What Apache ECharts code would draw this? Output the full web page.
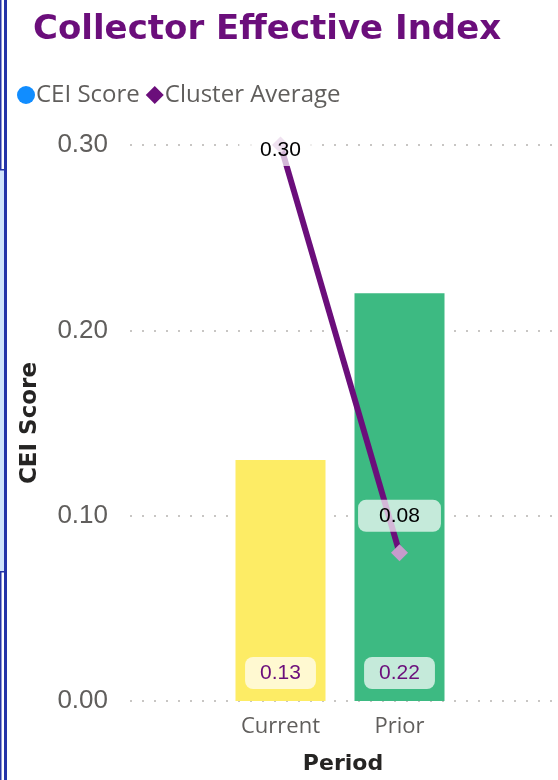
<!DOCTYPE html>
<html>
<head>
<meta charset="utf-8">
<script src="https://cdn.jsdelivr.net/npm/echarts@6/dist/echarts.min.js"></script>
<style>
html,body{margin:0;padding:0;background:#fff;}
#chart{width:558px;height:780px;}
</style>
</head>
<body>
<div id="chart"></div>
<script>
const categories = ['Current', 'Prior'];
const ceiScore = [0.13, 0.22];
const clusterAverage = [0.30, 0.08];
const yTicks = [0, 0.1, 0.2, 0.3];

const chart = echarts.init(document.getElementById('chart'), null, {renderer: 'canvas'});
const barColors = ['#FDEC65', '#3DBA82'];
const purple = '#6B0E7B';
const lineLabelOffsets = [[0, 5], [0, -37]];

const option = {
  backgroundColor: '#ffffff',
  animation: false,
  title: {
    text: 'Collector Effective Index',
    left: 28, top: 8,
    textStyle: {fontFamily: 'DejaVu Sans', fontWeight: 'bold', fontSize: 34, color: purple}
  },
  legend: {
    left: 12, top: 78, itemGap: 6, itemWidth: 18, itemHeight: 18,
    textStyle: {fontFamily: 'Open Sans', fontSize: 24, color: '#605E5C', padding: [0, 0, 0, -4]},
    data: [
      {name: 'CEI Score', icon: 'circle', itemStyle: {color: '#118DFF'}},
      {name: 'Cluster Average', icon: 'diamond', itemStyle: {color: purple}}
    ]
  },
  grid: [
    {left: 130, right: 0, top: 145, bottom: 79},
    {left: 221, width: 238, top: 145, bottom: 79}
  ],
  xAxis: [
    {type: 'value', gridIndex: 0, show: false, min: 0, max: 1},
    {type: 'category', gridIndex: 1, data: categories,
     axisLine: {show: false}, axisTick: {show: false},
     axisLabel: {fontFamily: 'Open Sans', fontSize: 22, color: '#605E5C', margin: 15},
     name: 'Period', nameLocation: 'middle', nameGap: 52,
     nameTextStyle: {fontFamily: 'DejaVu Sans', fontSize: 22, fontWeight: 'bold', color: '#252423', padding: [0, 0, 0, 6]}}
  ],
  yAxis: [
    {type: 'value', gridIndex: 0, min: 0, max: 0.3, interval: 0.1,
     axisLine: {show: false}, axisTick: {show: false},
     axisLabel: {fontFamily: 'Liberation Sans', fontSize: 26, color: '#605E5C', margin: 22,
                 formatter: v => v.toFixed(2)},
     splitLine: {show: true, lineStyle: {color: '#C8C6C4', width: 2, type: [2, 10]}},
     name: 'CEI Score', nameLocation: 'middle', nameGap: 88, nameRotate: 90,
     nameTextStyle: {fontFamily: 'DejaVu Sans', fontSize: 23, fontWeight: 'bold', color: '#252423'}},
    {type: 'value', gridIndex: 1, min: 0, max: 0.3, interval: 0.1, show: false}
  ],
  series: [
    {
      name: 'CEI Score', type: 'bar', xAxisIndex: 1, yAxisIndex: 1,
      barWidth: 90,
      data: ceiScore.map((v, i) => ({value: v, itemStyle: {color: barColors[i]}})),
      label: {
        show: true, position: 'insideBottom', distance: 12,
        formatter: p => p.value.toFixed(2),
        fontFamily: 'Liberation Sans', fontSize: 21, color: purple,
        backgroundColor: 'rgba(255,255,255,0.7)', borderRadius: 8,
        padding: [6, 15, 5, 15]
      }
    },
    {
      name: 'Cluster Average', type: 'line', xAxisIndex: 1, yAxisIndex: 1,
      data: clusterAverage.map((v, i) => ({value: v, label: {offset: lineLabelOffsets[i]}})),
      symbol: 'diamond', symbolSize: 17,
      itemStyle: {color: '#C89BCC'},
      lineStyle: {color: purple, width: 6},
      z: 5,
      label: {
        show: true, position: 'inside',
        formatter: p => p.value.toFixed(2),
        fontFamily: 'Liberation Sans', fontSize: 21, color: '#000',
        backgroundColor: 'rgba(255,255,255,0.7)', borderRadius: 8,
        padding: [6, 21, 5, 21]
      }
    }
  ],
  graphic: [
    {type: 'rect', shape: {x: 0, y: 170, width: 5, height: 402}, style: {fill: '#CFE3FB'}, silent: true},
    {type: 'rect', shape: {x: 4, y: 0, width: 3, height: 780}, style: {fill: '#2433A8'}, silent: true},
    {type: 'rect', shape: {x: 0, y: 0, width: 1.5, height: 170}, style: {fill: '#2433A8'}, silent: true},
    {type: 'rect', shape: {x: 0, y: 572, width: 1.5, height: 208}, style: {fill: '#2433A8'}, silent: true},
    {type: 'rect', shape: {x: 0, y: 169, width: 5, height: 1.5}, style: {fill: '#2433A8'}, silent: true},
    {type: 'rect', shape: {x: 0, y: 571, width: 5, height: 1.5}, style: {fill: '#2433A8'}, silent: true}
  ]
};
chart.setOption(option);
</script>
</body>
</html>
